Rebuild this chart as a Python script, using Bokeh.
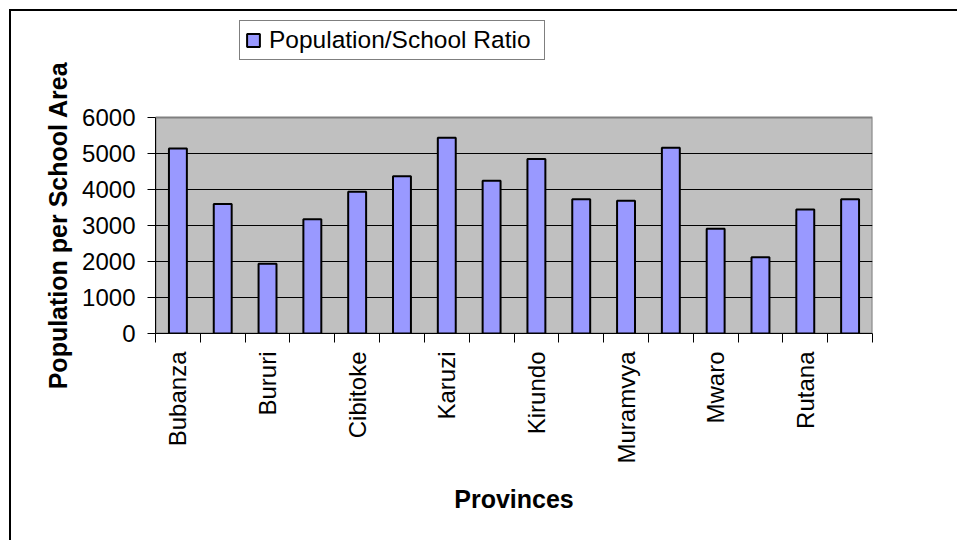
import numpy as np
from bokeh.plotting import figure
from bokeh.models import (Range1d, FixedTicker, ColumnDataSource, Legend,
                          LegendItem, InlineStyleSheet, Title)
from bokeh.embed import file_html
from bokeh.resources import INLINE

# Population per school area, by province (alphabetical order)
provinces = ["Bubanza", "Bujumbura Rural", "Bururi", "Cankuzo", "Cibitoke", "Gitega",
             "Karuzi", "Kayanza", "Kirundo", "Makamba", "Muramvya", "Muyinga",
             "Mwaro", "Ngozi", "Rutana", "Ruyigi"]
ratio = [5140, 3600, 1940, 3175, 3940, 4370, 5440, 4240,
         4850, 3730, 3685, 5160, 2910, 2115, 3445, 3730]
y_ticks = [0, 1000, 2000, 3000, 4000, 5000, 6000]
series_name = "Population/School Ratio"
x_title = "Provinces"
y_title = "Population per School Area"

FONT = "Liberation Sans"

# page layout (pixels): the frame runs from TOP to BOTTOM, the value axis
# (y_ticks[0]..y_ticks[-1]) occupies AXIS_TOP..BOTTOM, leaving room for the legend
W, H = 957, 540
LEFT, RIGHT, TOP, AXIS_TOP, BOTTOM = 155, 872, 12, 117, 333
y_end = y_ticks[0] + (y_ticks[-1] - y_ticks[0]) * (BOTTOM - TOP) / (BOTTOM - AXIS_TOP)

n = len(provinces)
centers = np.arange(n) + 0.5
edges = list(range(n + 1))

src = ColumnDataSource(dict(x=centers, ratio=ratio, province=provinces))

p = figure(width=W, height=H, output_backend="svg", toolbar_location=None,
           x_range=Range1d(0, n), y_range=Range1d(y_ticks[0], y_end),
           min_border_left=LEFT, min_border_right=W - RIGHT, min_border_top=TOP,
           min_border_bottom=H - BOTTOM)

p.background_fill_alpha = 0
p.border_fill_alpha = 0
p.outline_line_color = None

# thin frame line along the left and top of the chart area
p.stylesheets = [InlineStyleSheet(css=(
    ":host { background: white; "
    "box-shadow: inset 9px 9px 0 0 white, inset 11px 11px 0 0 black; }"))]

# grey plot area behind the grid and bars
p.quad(left=[0], right=[n], bottom=[y_ticks[0]], top=[y_ticks[-1]],
       fill_color="#C0C0C0", line_color="#808080", line_width=2, level="image")

bars = p.vbar(x="x", top="ratio", width=0.40, source=src, fill_color="#9999FF",
              line_color="black", line_width=2)

# x axis: labels on every other province, tick marks on category boundaries
p.xaxis.ticker = FixedTicker(ticks=list(centers), minor_ticks=edges)
p.xaxis.major_label_overrides = {float(c): (name if i % 2 == 0 else "")
                                 for i, (c, name) in enumerate(zip(centers, provinces))}
p.xaxis.major_label_orientation = np.pi / 2
p.xaxis.major_tick_out = 0
p.xaxis.major_tick_in = 0
p.xaxis.minor_tick_out = 9
p.xaxis.minor_tick_in = 0
p.xaxis.minor_tick_line_color = "black"
p.xaxis.major_label_standoff = 9
p.xaxis.axis_label = x_title
p.xaxis.axis_label_standoff = 18

p.yaxis.ticker = FixedTicker(ticks=y_ticks)
p.yaxis.bounds = (y_ticks[0], y_ticks[-1])
p.yaxis.major_tick_out = 8
p.yaxis.major_tick_in = 0
p.yaxis.minor_tick_line_color = None
p.yaxis.major_label_standoff = 12

for ax in (p.xaxis, p.yaxis):
    ax.axis_line_color = "black"
    ax.axis_line_width = 1
    ax.major_tick_line_color = "black"
    ax.major_label_text_font = FONT
    ax.major_label_text_font_size = "24px"
    ax.major_label_text_color = "black"
    ax.axis_label_text_font = FONT
    ax.axis_label_text_font_size = "25px"
    ax.axis_label_text_font_style = "bold"
    ax.axis_label_text_color = "black"

# value-axis title, placed along the value span rather than the whole frame
p.add_layout(Title(text=y_title, align="right", standoff=16, offset=49,
                   text_font=FONT, text_font_size="25px", text_font_style="bold",
                   text_color="black"), "left")

p.xgrid.grid_line_color = None
p.ygrid.ticker = FixedTicker(ticks=y_ticks[1:-1])
p.ygrid.grid_line_color = "black"
p.ygrid.grid_line_width = 1

leg = Legend(items=[LegendItem(label=series_name, renderers=[bars])],
             location=(84, 273), margin=0, padding=5, spacing=0,
             border_line_color="black", border_line_width=1,
             background_fill_color="white", background_fill_alpha=1,
             glyph_width=16, glyph_height=16, label_standoff=8, label_width=270,
             label_text_font=FONT, label_text_font_size="24.5px",
             label_text_color="black")
p.add_layout(leg)

open("out.html", "w").write(file_html(p, INLINE))
